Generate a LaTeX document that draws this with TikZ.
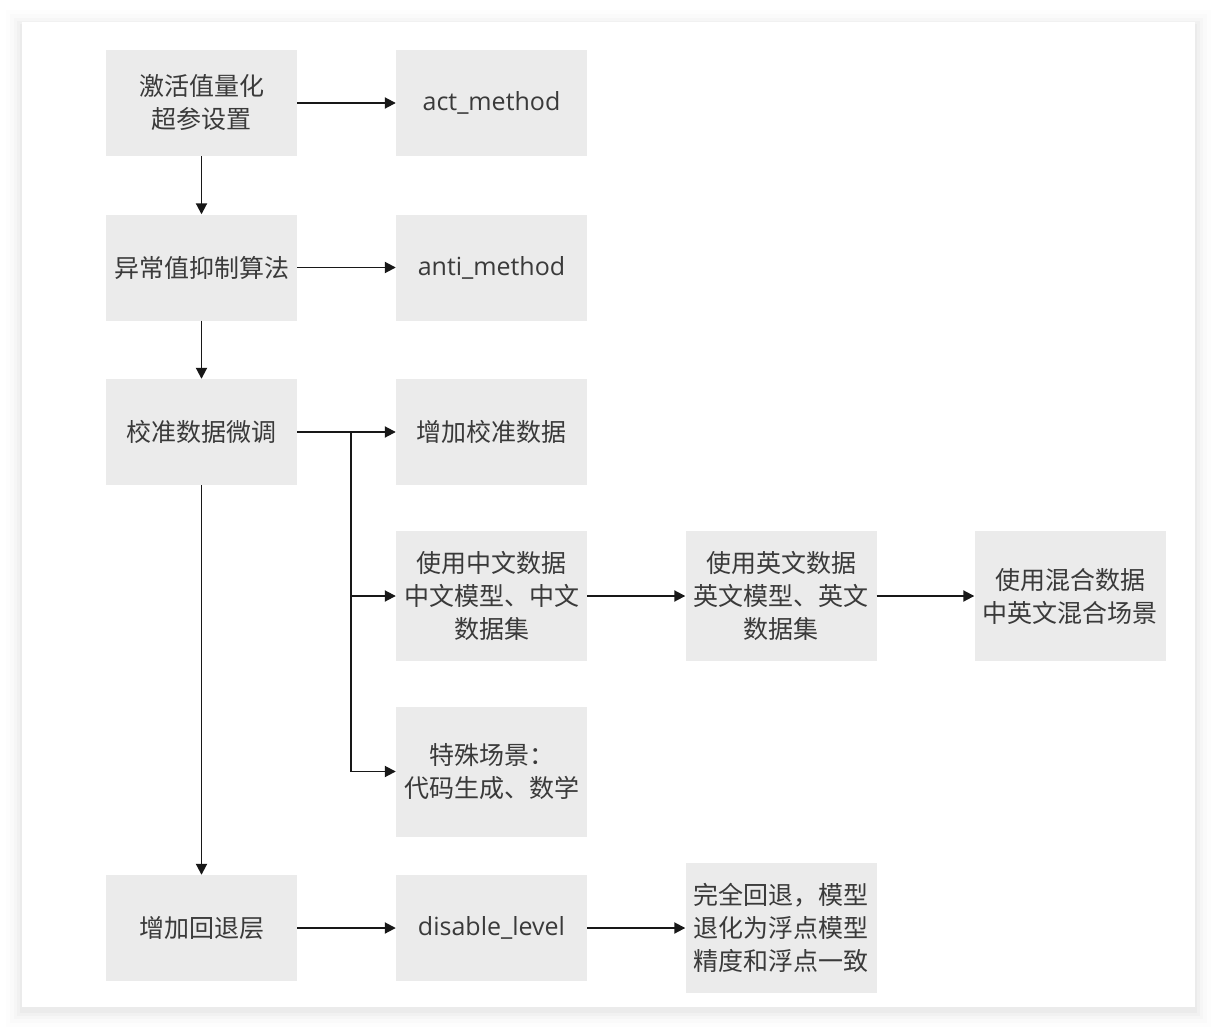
\documentclass[tikz,border=0pt]{standalone}
\usepackage{fontspec}
\setmainfont{Open Sans}
\newfontfamily\cjk{Noto Sans CJK SC}
\usetikzlibrary{arrows.meta, positioning}
\tikzset{every node/.append style={align=center}}
\definecolor{boxgray}{RGB}{235,235,235}
\definecolor{textgray}{RGB}{58,58,58}
\definecolor{linecol}{RGB}{24,24,24}

\begin{document}
\begin{tikzpicture}[x=1pt, y=-1pt,
  blk/.style={fill=boxgray, text=textgray, inner sep=0pt,
              minimum width=191pt, minimum height=106pt,
              font=\fontsize{25}{33}\selectfont\cjk},
  tall/.style={minimum height=130pt},
  lat/.style={font=\fontsize{25}{33}\selectfont},
  conn/.style={-{Triangle[length=11pt,width=11pt]}, line width=1.9pt, draw=linecol}]

\useasboundingbox (0,0) rectangle (1218,1030);

% ── Card with soft shadow ────────────────────────────────────────────────────
\foreach \d/\o in {16/0.008, 12/0.012, 8/0.016, 5/0.02, 2/0.025} {
  \fill[black, opacity=\o] (22-\d,22-\d+4) rectangle (1195+\d,1007+\d+4);
}
\fill[white] (22,22) rectangle (1195,1007);

% ── Left column: main steps ──────────────────────────────────────────────────
\node[blk] (act)      at (201.5,103)   {激活值量化\\超参设置};
\node[blk] (anti)     at (201.5,267.5) {异常值抑制算法};
\node[blk] (calib)    at (201.5,432)   {校准数据微调};
\node[blk] (fallback) at (201.5,928)   {增加回退层};

% ── Parameters and options ───────────────────────────────────────────────────
\node[blk, lat] (actm)    at (491.5,103)   {act\_method};
\node[blk, lat] (antim)   at (491.5,267.5) {anti\_method};
\node[blk]      (adddata) at (491.5,432)   {增加校准数据};
\node[blk, tall] (zh)      at (491.5,596)   {使用中文数据\\中文模型、中文\\数据集};
\node[blk, tall] (special) at (491.5,771.5) {特殊场景：\\代码生成、数学};
\node[blk, lat] (disable) at (491.5,928)   {disable\_level};

% ── Right side ───────────────────────────────────────────────────────────────
\node[blk, tall] (en)   at (781,596)  {使用英文数据\\英文模型、英文\\数据集};
\node[blk, tall] (mix)  at (1070,596) {使用混合数据\\中英文混合场景};
\node[blk, tall] (full) at (781,928)  {完全回退，模型\\退化为浮点模型\\精度和浮点一致};

% ── Connectors ───────────────────────────────────────────────────────────────
\foreach \a/\b in {act/anti, anti/calib, calib/fallback,
                   act/actm, anti/antim, calib/adddata,
                   zh/en, en/mix, fallback/disable, disable/full} {
  \draw[conn] (\a) -- (\b);
}
\coordinate (split) at ([xshift=54pt]calib.east);
\draw[conn] (split) |- (zh);
\draw[conn] (split) |- (special);

\end{tikzpicture}
\end{document}
